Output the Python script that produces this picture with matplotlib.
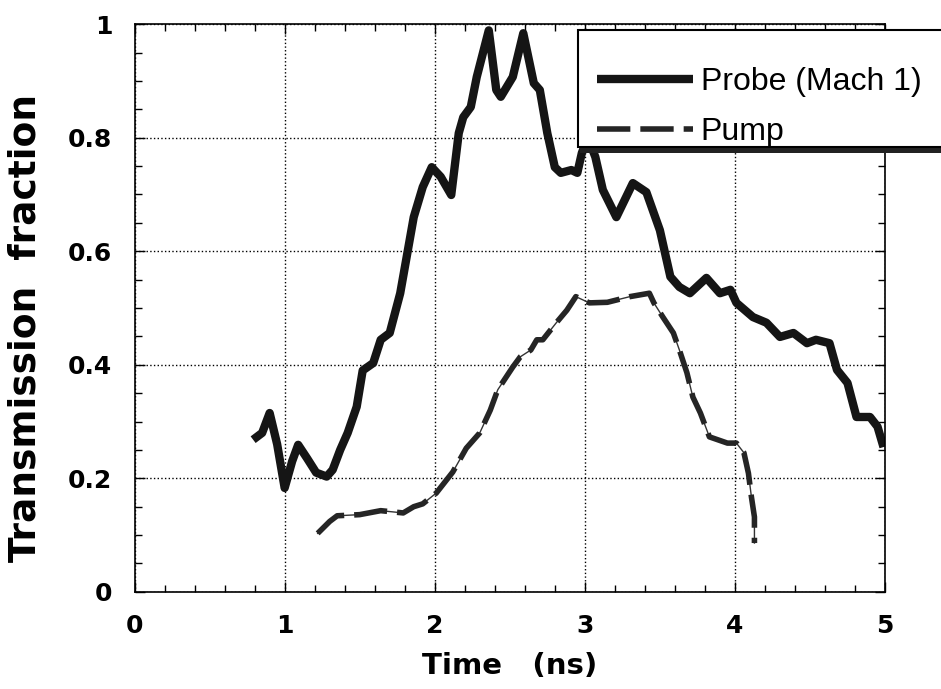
import matplotlib.pyplot as plt
from matplotlib.patches import Rectangle
from matplotlib.ticker import MultipleLocator

# probe (Mach 1) trace
probe_t = [0.79, 0.85, 0.90, 0.95, 1.00, 1.05, 1.09, 1.15, 1.21, 1.28, 1.32, 1.37, 1.42,
           1.48, 1.52, 1.59, 1.64, 1.70, 1.77, 1.86, 1.92, 1.98, 2.04, 2.11, 2.16, 2.19,
           2.24, 2.28, 2.36, 2.41, 2.44, 2.52, 2.59, 2.66, 2.70, 2.75, 2.80, 2.84, 2.91,
           2.95, 2.98, 3.02, 3.07, 3.12, 3.21, 3.32, 3.41, 3.50, 3.57, 3.63, 3.70, 3.81,
           3.90, 3.97, 4.01, 4.12, 4.21, 4.30, 4.39, 4.48, 4.54, 4.63, 4.68, 4.75, 4.81,
           4.90, 4.95, 4.99]
probe_y = [0.268, 0.28, 0.315, 0.26, 0.183, 0.23, 0.259, 0.235, 0.21, 0.203, 0.215, 0.25, 0.28,
           0.326, 0.39, 0.403, 0.444, 0.456, 0.526, 0.66, 0.713, 0.748, 0.731, 0.699, 0.808, 0.836,
           0.854, 0.907, 0.989, 0.884, 0.872, 0.907, 0.984, 0.896, 0.884, 0.808, 0.748, 0.738, 0.743,
           0.738, 0.773, 0.80, 0.766, 0.708, 0.66, 0.72, 0.704, 0.637, 0.555, 0.537, 0.526, 0.553,
           0.526, 0.532, 0.509, 0.484, 0.474, 0.449, 0.456, 0.438, 0.444, 0.438, 0.391, 0.368, 0.308,
           0.308, 0.291, 0.255]

# pump trace
pump_t = [1.22, 1.30, 1.35, 1.50, 1.64, 1.79, 1.86, 1.92, 2.01, 2.12, 2.21, 2.30, 2.37,
          2.42, 2.52, 2.57, 2.64, 2.68, 2.72, 2.81, 2.88, 2.94, 3.03, 3.15, 3.30, 3.43,
          3.46, 3.52, 3.59, 3.63, 3.68, 3.72, 3.77, 3.83, 3.95, 4.01, 4.06, 4.09, 4.11,
          4.13, 4.13]
pump_y = [0.103, 0.124, 0.134, 0.136, 0.143, 0.139, 0.150, 0.155, 0.174, 0.211, 0.253, 0.28, 0.32,
          0.356, 0.396, 0.414, 0.426, 0.444, 0.444, 0.474, 0.496, 0.52, 0.509, 0.51, 0.52, 0.526,
          0.509, 0.484, 0.456, 0.426, 0.386, 0.343, 0.315, 0.273, 0.262, 0.262, 0.245, 0.209, 0.167,
          0.132, 0.086]

plt.rcParams['font.family'] = ['DejaVu Sans']

fig = plt.figure(figsize=(9.41, 6.89), dpi=100)
ax = fig.add_axes([0.143, 0.141, 0.7975, 0.824])

ax.plot(probe_t, probe_y, color='#151515', lw=6, solid_capstyle='butt', label='Probe (Mach 1)')
ax.plot(pump_t, pump_y, color='#333333', lw=1)
ax.plot(pump_t, pump_y, color='#252525', lw=4, ls=(0, (6, 1.8)), label='Pump')

ax.set_xlim(0, 5)
ax.set_ylim(0, 1)
ax.set_xticks([0, 1, 2, 3, 4, 5])
ax.set_yticks([0, 0.2, 0.4, 0.6, 0.8, 1])
ax.set_yticklabels(['0', '0.2', '0.4', '0.6', '0.8', '1'])
ax.xaxis.set_minor_locator(MultipleLocator(0.2))
ax.yaxis.set_minor_locator(MultipleLocator(0.05))
ax.tick_params(which='both', direction='in', top=True, right=True, width=1)
ax.tick_params(which='major', length=7, labelsize=18)
ax.tick_params(axis='x', which='major', pad=16)
ax.tick_params(axis='y', which='major', pad=16)
ax.tick_params(which='minor', length=5)
for lab in ax.get_xticklabels() + ax.get_yticklabels():
    lab.set_fontweight('bold')
ax.grid(True, which='major', ls=':', color='black', lw=1)
for s in ax.spines.values():
    s.set_linewidth(1.2)

ax.set_xlabel('Time   (ns)', fontsize=21, fontweight='bold', labelpad=10)
ax.set_ylabel('Transmission  fraction', fontsize=27, fontweight='bold')
ax.yaxis.label.set_va('center')
ax.yaxis.set_label_coords((25 - 134.5) / 750.5, (592 - 328) / 568)

# legend box runs off the right edge of the figure, with a heavy bottom shadow
box = Rectangle((578 / 941, 1 - 147 / 689), 0.5, 117 / 689, transform=fig.transFigure,
                facecolor='white', edgecolor='black', lw=1.5, zorder=5)
fig.patches.append(box)
shadow = Rectangle((580 / 941, 1 - 153 / 689), 0.5, 7 / 689, transform=fig.transFigure,
                   facecolor='#222222', edgecolor='none', zorder=4)
fig.patches.append(shadow)
leg = fig.legend(loc='upper left', bbox_to_anchor=(581 / 941, 1 - 51 / 689), frameon=False,
                 prop={'family': 'Liberation Sans', 'size': 23},
                 handlelength=3.0, handletextpad=0.25, labelspacing=0.62,
                 borderpad=0.0)
leg.set_zorder(6)

fig.savefig('out.png', dpi=100)
